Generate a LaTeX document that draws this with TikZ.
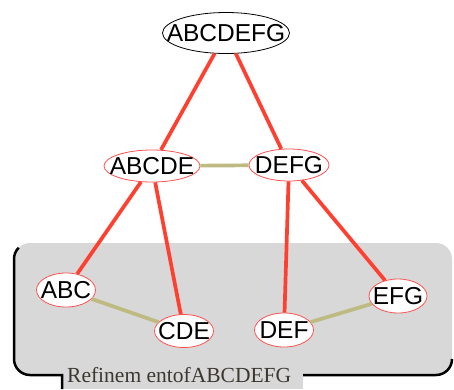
\documentclass[tikz,border=0pt]{standalone}
\usepackage{fontspec}
\setmainfont{Liberation Sans}
\newfontfamily\labelfont{Liberation Serif}
\usetikzlibrary{shapes.geometric}
\definecolor{edgered}{RGB}{255,64,48}
\definecolor{ringred}{RGB}{255,80,80}
\definecolor{olivelink}{RGB}{190,186,130}
\definecolor{boxgray}{RGB}{216,216,216}
\definecolor{labeltext}{RGB}{60,56,48}
\begin{document}
\begin{tikzpicture}[x=1pt,y=-1pt,
  setnode/.style={ellipse, draw=ringred, line width=0.8pt, fill=white, inner sep=0pt},
  settext/.style={font=\fontsize{24.5}{26}\selectfont, inner sep=0pt},
  tree/.style={draw=edgered, line width=3.7pt},
  link/.style={draw=olivelink, line width=3.7pt},
  rim/.style={draw=black, line width=2.5pt}]
\useasboundingbox (0,0) rectangle (454,389);
% refinement box
\fill[boxgray, rounded corners=16pt] (14,243) rectangle (452,375);
\fill[boxgray] (62,370) rectangle (303,389);
\draw[rim] (18.7,247.7) arc[start angle=225, end angle=180, radius=16] -- (14,359)
  arc[start angle=180, end angle=90, radius=16] -- (62,375) -- (62,389);
\draw[rim] (303,375) -- (436,375) arc[start angle=90, end angle=0, radius=16];
\node[anchor=base west, inner sep=0pt, text=labeltext, font=\labelfont\fontsize{21.5}{23}\selectfont] (lbl) at (67,382) {Refinem entofABCDEFG};
% nodes
\node[setnode, draw=black, minimum width=127pt, minimum height=41pt, label={[settext]center:ABCDEFG}] (all) at (226,33) {};
\node[setnode, minimum width=96pt, minimum height=32pt, label={[settext]center:ABCDE}] (abcde) at (152,166) {};
\node[setnode, minimum width=80pt, minimum height=32pt, label={[settext]center:DEFG}] (defg) at (289,165) {};
\node[setnode, minimum width=59pt, minimum height=34pt, label={[settext]center:ABC}] (abc) at (66,290) {};
\node[setnode, minimum width=59pt, minimum height=33pt, label={[settext]center:CDE}] (cde) at (184,331) {};
\node[setnode, minimum width=59pt, minimum height=34pt, label={[settext]center:DEF}] (def) at (284,330) {};
\node[setnode, minimum width=58pt, minimum height=34pt, label={[settext]center:EFG}] (efg) at (398,296) {};
% connectors
\draw[tree] (all) -- (abcde);
\draw[tree] (all) -- (defg);
\draw[tree] (abcde) -- (abc);
\draw[tree] (abcde) -- (cde);
\draw[tree] (defg) -- (def);
\draw[tree] (defg) -- (efg);
\draw[link] (abcde) -- (defg);
\draw[link] (abc) -- (cde);
\draw[link] (def) -- (efg);
\end{tikzpicture}
\end{document}
